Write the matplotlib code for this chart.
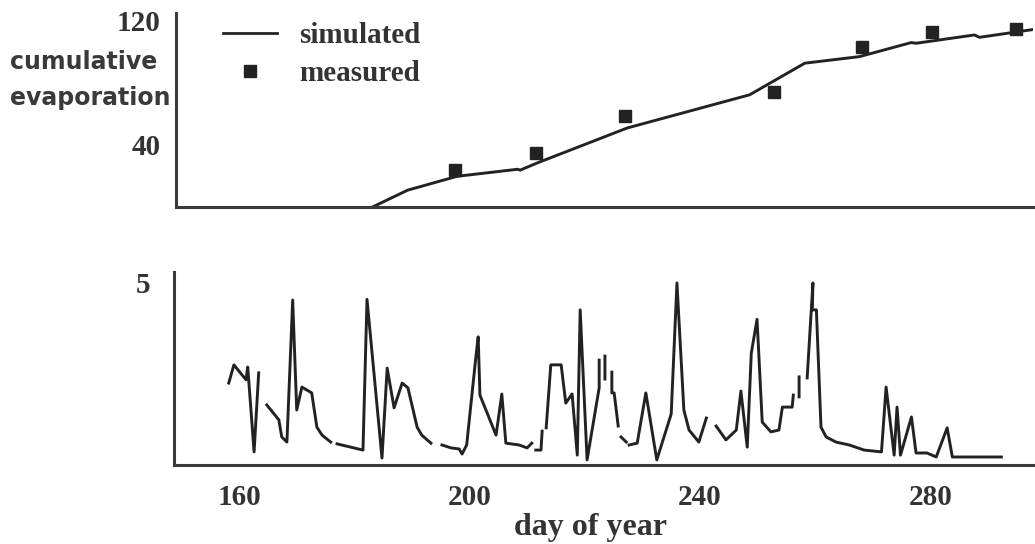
import numpy as np
import matplotlib
matplotlib.use("Agg")
import matplotlib.pyplot as plt
from matplotlib.lines import Line2D

nan = np.nan

# ------------------------------------------------------------
# data
# ------------------------------------------------------------
# cumulative evaporation, simulated (line) and measured (squares)
sim_day = [182.9, 189.0, 197.6, 208.1, 208.6, 211.7, 227.2, 248.5,
           258.1, 267.6, 276.6, 277.5, 287.6, 288.5, 298.0]
sim_cum = [0.0, 10.8, 19.7, 24.2, 23.7, 28.5, 50.7, 72.0,
           92.3, 96.5, 105.5, 105.1, 110.4, 108.9, 114.0]

meas_day = [197.3, 211.4, 226.9, 252.7, 268.1, 280.3, 294.9]
meas_cum = [24.0, 34.7, 58.1, 74.1, 102.9, 112.1, 114.0]

# daily evaporation, gaps (missing days) as nan
rate_day = [158.2, 159.1, 161.2, 161.5, 162.6, 163.4, nan,
            164.8, 166.9, 167.4, 168.3, 169.3, 170.0, 170.9, 172.6, 173.5, 174.4, 175.9, nan,
            177.0, 181.5, 182.2, 184.8, 185.7, 186.9, 188.3, 189.3, 190.9, 191.7, 193.3, nan,
            195.2, 196.8, 198.2, 198.7, 199.5, 201.1, 201.5, 201.8, 204.6, 205.6, 206.3,
            208.6, 210.0, 210.8, nan,
            211.5, 212.4, 212.6, nan,
            213.3, 214.1, 215.9, 216.7, 217.8, 218.7, 219.2, 220.4, 222.5, 222.5, nan,
            223.5, 223.5, nan,
            224.7, 224.7, 225.1, 225.8, nan,
            226.3, 227.2, nan,
            227.7, 229.1, 230.6, 232.5, 235.0, 236.0, 237.2, 238.1, 239.8, 241.1, nan,
            242.8, 244.5, 246.3, 247.1, 248.2, 248.9, 249.9, 250.8, 252.3, 253.7, 254.3,
            256.0, 256.2, nan,
            257.2, 257.2, nan,
            258.6, 259.6, 259.5, 260.2, 261.0, 261.9, 263.6, 265.9, 268.5, 271.5, 272.3,
            273.7, 274.2, 274.8, 276.7, 277.5, 279.4, 281.0, 282.9, 283.8, 292.3]
rate_val = [2.25, 2.75, 2.34, 2.69, 0.36, 2.53, nan,
            1.65, 1.24, 0.77, 0.63, 4.53, 1.51, 2.14, 1.98, 1.04, 0.82, 0.63, nan,
            0.58, 0.41, 4.55, 0.19, 2.66, 1.57, 2.25, 2.12, 1.04, 0.82, 0.60, nan,
            0.55, 0.47, 0.44, 0.30, 0.55, 2.97, 3.52, 1.92, 0.82, 1.95, 0.60,
            0.55, 0.47, 0.60, nan,
            0.41, 0.41, 0.93, nan,
            1.02, 2.75, 2.75, 1.70, 1.95, 0.27, 4.26, 0.14, 2.12, 2.88, nan,
            2.99, 2.36, nan,
            2.55, 1.98, 1.98, 1.07, nan,
            0.77, 0.63, nan,
            0.55, 0.60, 1.98, 0.14, 1.40, 5.00, 1.51, 0.96, 0.63, 1.29, nan,
            1.07, 0.69, 0.96, 2.03, 0.49, 3.07, 4.00, 1.18, 0.91, 0.96, 1.59,
            1.59, 1.92, nan,
            2.42, 1.87, nan,
            2.39, 5.00, 4.26, 4.26, 1.04, 0.77, 0.63, 0.55, 0.41, 0.36, 2.14,
            0.27, 1.59, 0.27, 1.32, 0.33, 0.33, 0.22, 1.02, 0.22, 0.22]

x_ticks = [160, 200, 240, 280]
cum_ticks = [40, 120]
rate_ticks = [5]

# ------------------------------------------------------------
# style
# ------------------------------------------------------------
ink = "#222222"
axis_col = "#3a3a3a"
serif = {"family": "Liberation Serif", "weight": "bold", "size": 21}
W, H = 1035, 544

fig = plt.figure(figsize=(W / 100, H / 100), dpi=100)

ax1 = fig.add_axes([176 / W, 1 - 207 / H, (1033 - 176) / W, (207 - 13) / H])
ax2 = fig.add_axes([174 / W, 1 - 465 / H, (1033 - 174) / W, (465 - 272) / H])

for ax in (ax1, ax2):
    ax.set_xlim(148.7, 297.8)
    for s in ("top", "right"):
        ax.spines[s].set_visible(False)
    for s in ("left", "bottom"):
        ax.spines[s].set_linewidth(2.2)
        ax.spines[s].set_color(axis_col)
    ax.tick_params(length=0, colors="#333333")

# ---- top panel
ax1.plot(sim_day, sim_cum, color=ink, lw=2.1, solid_joinstyle="miter")
ax1.plot(meas_day, meas_cum, ls="none", marker="s", ms=9, color=ink)
ax1.set_ylim(0, 124.5)
ax1.set_yticks(cum_ticks)
ax1.set_yticklabels([str(t) for t in cum_ticks], fontdict=serif)
ax1.tick_params(axis="y", pad=11)
ax1.set_xticks([])

handles = [Line2D([], [], color=ink, lw=2.0),
           Line2D([], [], ls="none", marker="s", ms=8, color=ink)]
ax1.legend(handles, ["simulated", "measured"], loc="upper left",
           bbox_to_anchor=(0.055, 0.955), frameon=False, borderpad=0,
           borderaxespad=0, handlelength=1.85, handletextpad=0.75,
           labelspacing=0.38, prop=serif, labelcolor="#333333")

fig.text(10 / W, 1 - 62 / H, "cumulative", ha="left", va="center",
         family="DejaVu Sans", weight="bold", size=17, color="#3a3a3a")
fig.text(10 / W, 1 - 98 / H, "evaporation", ha="left", va="center",
         family="DejaVu Sans", weight="bold", size=17, color="#3a3a3a")

# ---- bottom panel
ax2.plot(rate_day, rate_val, color=ink, lw=2.1)
ax2.set_ylim(0, 5.3)
ax2.set_yticks(rate_ticks)
ax2.set_yticklabels([str(t) for t in rate_ticks], fontdict=serif)
ax2.tick_params(axis="y", pad=17)
ax2.set_xticks(x_ticks)
ax2.set_xticklabels([str(t) for t in x_ticks], fontdict=serif)
ax2.tick_params(axis="x", pad=14)

fig.text(590 / W, 1 - 527 / H, "day of year", ha="center", va="center",
         family="Liberation Serif", weight="bold", size=23, color="#333333")

fig.savefig("out.png", dpi=100)
